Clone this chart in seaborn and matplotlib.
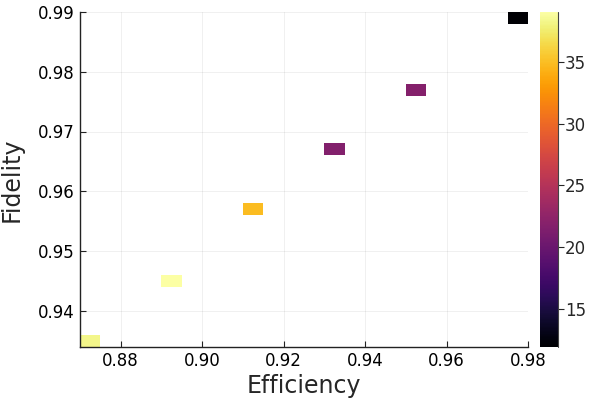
import numpy as np
import pandas as pd
import seaborn as sns
import matplotlib.pyplot as plt
from matplotlib.ticker import FormatStrFormatter

# cell centres and values
efficiency = [0.8725, 0.8925, 0.9125, 0.9325, 0.9525, 0.9775]
fidelity = [0.935, 0.945, 0.957, 0.967, 0.977, 0.989]
values = [38.2, 38.9, 34.8, 21.6, 21.8, 12.0]

df = pd.DataFrame({"Efficiency": efficiency, "Fidelity": fidelity, "value": values})

sns.set_theme(style="white")
plt.rcParams['font.family'] = ['DejaVu Sans']

fig = plt.figure(figsize=(6, 4), dpi=100)
ax = fig.add_axes([0.1333, 0.1335, 0.7467, 0.8365])
cax = fig.add_axes([0.9, 0.1335, 0.03, 0.8365])

xedges = np.round(np.arange(0.87, 0.9801, 0.005), 4)
yedges = np.round(np.arange(0.934, 0.9901, 0.002), 4)

sns.histplot(data=df, x="Efficiency", y="Fidelity", weights="value",
             bins=(xedges, yedges), cmap="inferno", vmin=12.0, vmax=39.0,
             cbar=True, cbar_ax=cax, ax=ax, zorder=2)

ax.set_xlim(0.87, 0.98)
ax.set_ylim(0.934, 0.99)
ax.set_xticks([0.88, 0.90, 0.92, 0.94, 0.96, 0.98])
ax.set_yticks([0.94, 0.95, 0.96, 0.97, 0.98, 0.99])
ax.xaxis.set_major_formatter(FormatStrFormatter('%.2f'))
ax.yaxis.set_major_formatter(FormatStrFormatter('%.2f'))
ax.grid(True, color='black', alpha=0.07, linewidth=0.6, zorder=0)
ax.set_axisbelow(True)
for s in ['top', 'right']:
    ax.spines[s].set_visible(False)
for s in ['left', 'bottom']:
    ax.spines[s].set_color('#222222')
    ax.spines[s].set_linewidth(1.0)
ax.tick_params(axis='both', direction='in', length=4, width=0.8,
               labelsize=12, colors='#222222', labelcolor='black',
               left=True, bottom=True, pad=4)
ax.set_xlabel("Efficiency", fontsize=17, labelpad=3)
ax.set_ylabel("Fidelity", fontsize=17)
ax.yaxis.set_label_coords(-0.125, 0.5)

cb = ax.collections[0].colorbar
cb.outline.set_visible(False)
cax.set_yticks([15, 20, 25, 30, 35])
cax.tick_params(axis='y', direction='out', length=4, width=0.8, labelsize=12,
                right=True, pad=1)
cax.plot([1, 1], [0, 1], transform=cax.transAxes, color='#444444',
         linewidth=0.8, clip_on=False)

plt.savefig('out.png', dpi=100)
